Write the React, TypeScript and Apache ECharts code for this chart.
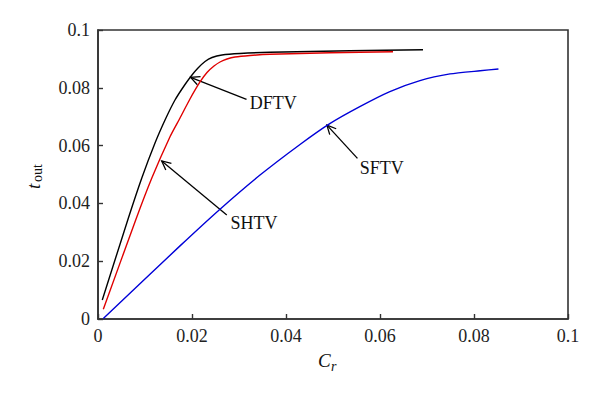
import React, { useEffect, useRef } from "react";
import * as echarts from "echarts";

const xTicks = [0, 0.02, 0.04, 0.06, 0.08, 0.1];
const yTicks = [0, 0.02, 0.04, 0.06, 0.08, 0.1];

const dftvX = [0.00091, 0.00645, 0.0093, 0.01213, 0.01436, 0.01638, 0.01851, 0.02, 0.02128, 0.02277, 0.02426, 0.02638, 0.03021, 0.0366, 0.05362, 0.06915];
const dftvY = [0.00657, 0.03484, 0.04869, 0.0609, 0.0692, 0.07578, 0.08114, 0.08443, 0.08685, 0.0891, 0.09048, 0.09135, 0.09187, 0.09228, 0.0928, 0.09318];

const shtvX = [0.00113, 0.00802, 0.01143, 0.01532, 0.01745, 0.01957, 0.0217, 0.02319, 0.02468, 0.02596, 0.02745, 0.02915, 0.03234, 0.0366, 0.04936, 0.06277];
const shtvY = [0.00336, 0.03426, 0.04869, 0.06308, 0.06955, 0.07612, 0.08201, 0.0853, 0.08754, 0.08893, 0.08997, 0.09066, 0.09118, 0.09159, 0.09211, 0.09249];

const sftvX = [0.00113, 0.01745, 0.02596, 0.03447, 0.04298, 0.0494, 0.0557, 0.0621, 0.0685, 0.0749, 0.0813, 0.0852];
const sftvY = [0.0002, 0.0253, 0.038, 0.0498, 0.0604, 0.0677, 0.0735, 0.0787, 0.0825, 0.0848, 0.0859, 0.0865];

// annotations: label, arrow tip, arrow tail, label anchor (data coords)
const annLabels = ["DFTV", "SHTV", "SFTV"];
const annTip = [[0.0197, 0.0836], [0.01355, 0.0547], [0.0487, 0.0671]];
const annTail = [[0.0316, 0.076], [0.0274, 0.036], [0.0552, 0.0556]];
const annText = [[0.0323, 0.0746], [0.0282, 0.0333], [0.0557, 0.0521]];

const SERIF = "'Liberation Serif', 'DejaVu Serif', serif";

const zip = (xs: number[], ys: number[]) => xs.map((x, i) => [x, ys[i]]);

export default function App() {
  const ref = useRef<HTMLDivElement>(null);
  useEffect(() => {
    if (!ref.current) return;
    const chart = echarts.init(ref.current, null, { renderer: "svg" });
    const axisCommon = {
      type: "value" as const,
      min: 0,
      max: 0.1,
      interval: 0.02,
      splitLine: { show: false },
      axisLine: { show: true, lineStyle: { color: "#333", width: 1.6 } },
      axisTick: { show: true, inside: true, length: 5, lineStyle: { color: "#333", width: 1.4 } },
      axisLabel: {
        color: "#222",
        fontFamily: SERIF,
        fontSize: 18,
        margin: 8,
        formatter: (v: number) => {
          const t = [...xTicks, ...yTicks].find((k) => Math.abs(k - v) < 1e-9);
          return String(Number((t ?? v).toFixed(2)));
        },
      },
    };
    const annData = annLabels.map((l, i) => [
      annTip[i][0], annTip[i][1], annTail[i][0], annTail[i][1], annText[i][0], annText[i][1], i,
    ]);
    const lineCommon = {
      type: "line" as const,
      showSymbol: false,
      smooth: 0.2,
    };
    chart.setOption({
      animation: false,
      grid: {
        left: 98,
        right: 32,
        top: 30,
        bottom: 76,
        show: true,
        borderColor: "#333",
        borderWidth: 1.6,
        backgroundColor: "transparent",
      },
      xAxis: { ...axisCommon },
      yAxis: { ...axisCommon },
      series: [
        { ...lineCommon, name: "DFTV", data: zip(dftvX, dftvY), lineStyle: { color: "#000", width: 1.4 } },
        { ...lineCommon, name: "SHTV", data: zip(shtvX, shtvY), lineStyle: { color: "#e00000", width: 1.4 } },
        { ...lineCommon, name: "SFTV", data: zip(sftvX, sftvY), lineStyle: { color: "#0000d8", width: 1.4 } },
        {
          type: "custom",
          encode: { x: [0, 2, 4], y: [1, 3, 5] },
          data: annData,
          renderItem: (params: any, api: any) => {
            const tip = api.coord([api.value(0), api.value(1)]);
            const tail = api.coord([api.value(2), api.value(3)]);
            const lab = api.coord([api.value(4), api.value(5)]);
            const idx = api.value(6);
            const ang = Math.atan2(tail[1] - tip[1], tail[0] - tip[0]);
            const L = 10;
            const a = (26 * Math.PI) / 180;
            const p1 = [tip[0] + L * Math.cos(ang + a), tip[1] + L * Math.sin(ang + a)];
            const p2 = [tip[0] + L * Math.cos(ang - a), tip[1] + L * Math.sin(ang - a)];
            return {
              type: "group",
              children: [
                {
                  type: "line",
                  shape: { x1: tail[0], y1: tail[1], x2: tip[0], y2: tip[1] },
                  style: { stroke: "#000", lineWidth: 1.3 },
                },
                {
                  type: "polyline",
                  shape: { points: [p1, tip, p2] },
                  style: { stroke: "#000", lineWidth: 1.3, fill: "none" },
                },
                {
                  type: "text",
                  style: {
                    text: annLabels[idx],
                    x: lab[0],
                    y: lab[1],
                    fill: "#111",
                    font: `18px ${SERIF}`,
                    align: "left",
                    verticalAlign: "middle",
                  },
                },
              ],
            };
          },
        },
      ],
      graphic: [
        {
          type: "group",
          x: 33,
          y: 170,
          rotation: Math.PI / 2,
          children: [
            {
              type: "text",
              x: -19,
              y: 0,
              style: { text: "t", font: `italic 19px ${SERIF}`, fill: "#111", verticalAlign: "middle", align: "left" },
            },
            {
              type: "text",
              x: -12,
              y: 4,
              style: { text: "out", font: `14px ${SERIF}`, fill: "#111", verticalAlign: "middle", align: "left" },
            },
          ],
        },
        {
          type: "text",
          x: 318,
          y: 360,
          style: { text: "C", font: `italic 19px ${SERIF}`, fill: "#111", verticalAlign: "middle", align: "left" },
        },
        {
          type: "text",
          x: 331,
          y: 366,
          style: { text: "r", font: `italic 14px ${SERIF}`, fill: "#111", verticalAlign: "middle", align: "left" },
        },
      ],
    });
    return () => chart.dispose();
  }, []);
  return (
    <div
      ref={ref}
      style={{ width: 600, height: 395, position: "absolute", left: 0, top: 0, background: "#fff" }}
    />
  );
}
